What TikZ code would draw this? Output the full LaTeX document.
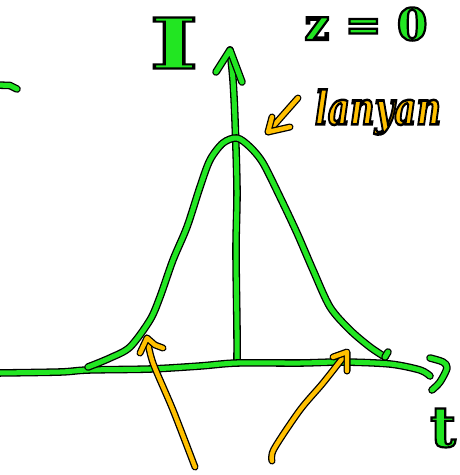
\documentclass[tikz,border=0pt]{standalone}
\usepackage{fontspec}
\newfontfamily\handfont{DejaVu Serif}
\definecolor{gr}{RGB}{34,230,34}
\definecolor{am}{RGB}{255,192,0}
\newcommand\outltext[1]{\special{pdf:code 0 0 0 RG 2 Tr 2.2 w}#1\special{pdf:code 0 Tr}}
\tikzset{
  gstroke/.style={draw=gr, line width=5pt, line cap=round, line join=round,
    preaction={draw=black, line width=7.6pt, line cap=round, line join=round}},
  ostroke/.style={draw=am, line width=4.4pt, line cap=round, line join=round,
    preaction={draw=black, line width=7pt, line cap=round, line join=round}},
  gtext/.style={text=gr, inner sep=0pt, font=\handfont\bfseries},
  otext/.style={text=am, inner sep=0pt, font=\handfont\bfseries\itshape}
}
\begin{document}
\begin{tikzpicture}[x=1pt,y=-1pt]
\useasboundingbox (0,0) rectangle (460,475);
% stray stroke at left edge
\coordinate (s0) at (-4,85);
\coordinate (s1) at (10,85.5);
\coordinate (s2) at (17,89);
\draw[gstroke] (s0) -- (s1) -- (s2);
% vertical axis
\draw[gstroke] plot[smooth] coordinates {(237,362) (237,330) (236,250) (237,190) (235,120) (233,80) (230,50)};
\draw[gstroke] (216,72) -- (230,50) -- (242,82);
% horizontal axis
\draw[gstroke] plot[smooth] coordinates {(-4,373) (60,372) (88,370) (150,369) (200,366) (237,363) (300,363) (343,362) (390,364) (420,370) (430,376)};
\draw[gstroke] plot[smooth] coordinates {(430,358) (443,362) (447,368) (440,382) (432,390)};
% Gaussian curve
\draw[gstroke] plot[smooth] coordinates {(88,367) (110,358) (130,347) (150,320) (160,297) (173,260) (187,227) (200,187) (210,160) (223,143) (237,138) (250,147) (263,163) (280,197) (297,233) (313,270) (330,307) (350,330) (370,347) (385,357)};
\draw[gstroke] (385,357) -- (388,352);
% orange arrows
\draw[ostroke] plot[smooth] coordinates {(195,467) (173,410) (153,363) (147,338)};
\draw[ostroke] (140,353) -- (147,338) -- (155,345) -- (163,348);
\draw[ostroke] plot[smooth] coordinates {(272,461) (274,449) (300,410) (323,383) (345,355)};
\draw[ostroke] (333,357) -- (347,352) -- (347,371);
\draw[ostroke] (298,98) -- (268,132);
\draw[ostroke] (272,117) -- (268,132) -- (290,127);
% texts
\node[gtext] (I) at (174,43) {\fontsize{70}{70}\selectfont\outltext{\scalebox{1.5}[1]{I}}};
\node[gtext] (z0) at (366,24) {\fontsize{44}{44}\selectfont\outltext{z = 0}};
\node[gtext] (t) at (443,428) {\fontsize{56}{56}\selectfont\outltext{t}};
\node[otext] (lan) at (378,112) {\fontsize{40}{40}\selectfont\outltext{\scalebox{0.85}[1.15]{lanyan}}};
\end{tikzpicture}
\end{document}
